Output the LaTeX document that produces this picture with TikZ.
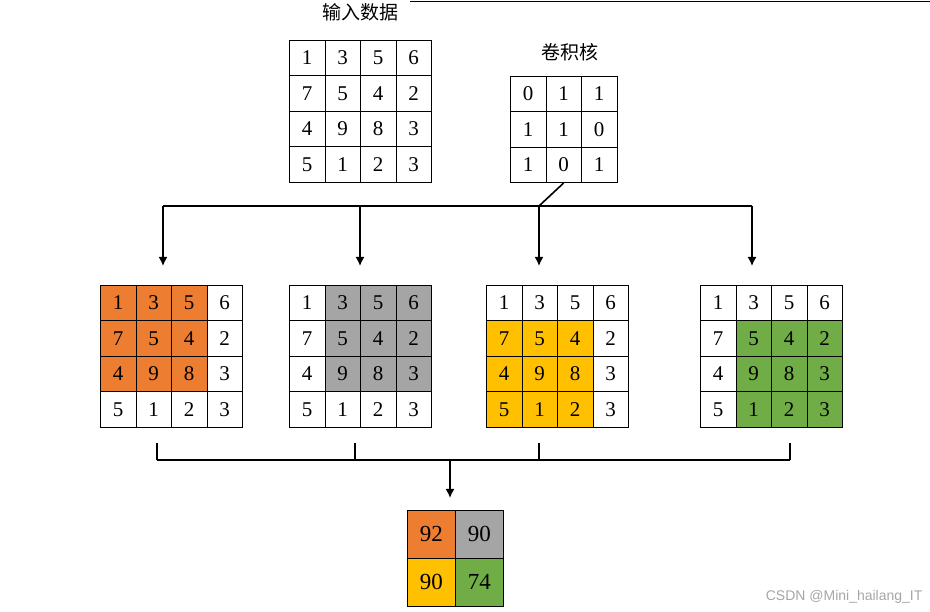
\documentclass[tikz,border=0pt]{standalone}
\usepackage{fontspec}
\usetikzlibrary{arrows.meta}
\setmainfont{Liberation Serif}
\newfontfamily\cjk{Noto Sans CJK SC}
\newfontfamily\wmf{Liberation Sans}
\definecolor{cor}{HTML}{ED7D31}
\definecolor{cgr}{HTML}{A5A5A5}
\definecolor{cye}{HTML}{FFC000}
\definecolor{cgn}{HTML}{70AD47}
\begin{document}
\begin{tikzpicture}[x=1pt,y=-1pt,
  cell/.style={draw=black,line width=0.6pt,minimum size=35.5pt,inner sep=0pt,anchor=north west,font=\fontsize{21}{21}\selectfont},
  big/.style={cell,minimum size=48pt,font=\fontsize{23}{23}\selectfont},
  conn/.style={line width=1.6pt},
  arr/.style={conn,-{Latex[length=9pt,width=9pt]}}]
\useasboundingbox (0,0) rectangle (930,612);
\draw[line width=0.8pt] (410,1) -- (930,1);
\node[font=\cjk\fontsize{19}{19}\selectfont] (t1) at (360,12) {输入数据};
\node[font=\cjk\fontsize{19}{19}\selectfont] (t2) at (570,52) {卷积核};
% input
\def\vals{{{1,3,5,6},{7,5,4,2},{4,9,8,3},{5,1,2,3}}}
\foreach \r in {0,...,3}\foreach \c in {0,...,3}{
  \pgfmathtruncatemacro\v{\vals[\r][\c]}
  \node[cell] (in-\r-\c) at ({289+35.5*\c},{40+35.5*\r}) {\v};}
\def\kv{{{0,1,1},{1,1,0},{1,0,1}}}
\foreach \r in {0,...,2}\foreach \c in {0,...,2}{
  \pgfmathtruncatemacro\v{\kv[\r][\c]}
  \node[cell] (k-\r-\c) at ({510+35.5*\c},{76+35.5*\r}) {\v};}
% four copies
\foreach \m/\x/\ro/\co/\col in {1/100/0/0/cor,2/289/0/1/cgr,3/486/1/0/cye,4/700/1/1/cgn}{
  \foreach \r in {0,...,3}\foreach \c in {0,...,3}{
    \pgfmathtruncatemacro\v{\vals[\r][\c]}
    \pgfmathtruncatemacro\ins{(\r>=\ro)&&(\r<\ro+3)&&(\c>=\co)&&(\c<\co+3)}
    \ifnum\ins=1 \def\fc{\col}\else\def\fc{white}\fi
    \node[cell,fill=\fc] (m\m-\r-\c) at ({\x+35.5*\c},{285+35.5*\r}) {\v};}}
% top tree
\coordinate (h1) at (163,206); \coordinate (h2) at (360,206);
\coordinate (h3) at (539,206); \coordinate (h4) at (752,206);
\draw[conn] (h1) -- (h4);
\draw[conn] (k-2-1.south) -- (h3);
\coordinate (a1) at (163,266); \coordinate (a2) at (360,266);
\coordinate (a3) at (539,266); \coordinate (a4) at (752,266);
\foreach \i in {1,...,4} \draw[arr] (h\i) -- (a\i);
% bottom bracket
\coordinate (b1) at (157,460); \coordinate (b2) at (355,460);
\coordinate (b3) at (539,460); \coordinate (b4) at (790,460);
\draw[conn] (b1) -- (b4);
\foreach \i in {1,...,4} \draw[conn] (b\i) -- ++(0,-17);
\coordinate (bm) at (450,460);
\coordinate (be) at (450,498);
% result
\node[big,fill=cor] (r00) at (407,510) {92};
\node[big,fill=cgr] (r01) at (455,510) {90};
\node[big,fill=cye] (r10) at (407,558) {90};
\node[big,fill=cgn] (r11) at (455,558) {74};
\draw[arr] (bm) -- (be);
\node[font=\wmf\fontsize{14}{14}\selectfont,text=gray!70,anchor=east] (wm) at (926,597) {CSDN @Mini\_hailang\_IT};
\end{tikzpicture}
\end{document}
